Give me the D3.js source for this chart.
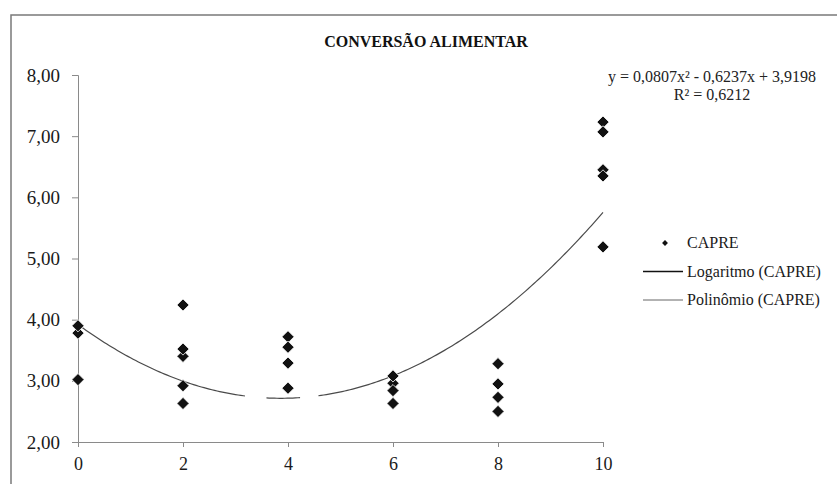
<!DOCTYPE html>
<html>
<head>
<meta charset="utf-8">
<script src="https://cdn.jsdelivr.net/npm/d3@7"></script>
<style>
  body { margin: 0; background: #fff; }
</style>
</head>
<body>
<div id="chart"></div>
<script>
// CAPRE level (x) and feed conversion (y), in the order Excel drew them
const xLevels = [0, 0, 0, 2, 2, 2, 2, 2, 4, 4, 4, 4, 6, 6, 6, 6, 8, 8, 8, 8, 10, 10, 10, 10, 10];
const capre   = [3.78, 3.90, 3.02, 4.24, 3.40, 3.52, 2.92, 2.63, 3.72, 3.55, 3.29, 2.88,
                 2.96, 3.08, 2.84, 2.63, 3.28, 2.95, 2.73, 2.50, 7.23, 7.07, 6.45, 6.35, 5.19];
const yTicks = [2, 3, 4, 5, 6, 7, 8];
const xTicks = [0, 2, 4, 6, 8, 10];
// polynomial trend line coefficients (from the chart label) and visible pieces
const polyCoef = [3.9198, -0.6237, 0.0807];
const polyPieces = [[0, 3.18], [3.59, 4.23], [4.58, 10]];
const legendItems = ["CAPRE", "Logaritmo (CAPRE)", "Polinômio (CAPRE)"];

const serif = "'Liberation Serif', 'DejaVu Serif', serif";
const width = 837, height = 484;
const svg = d3.select("#chart").append("svg")
    .attr("width", width)
    .attr("height", height)
    .style("font-family", serif);

// outer frame
svg.append("rect")
    .attr("x", 11).attr("y", 15)
    .attr("width", 840).attr("height", 480)
    .attr("fill", "none")
    .attr("stroke", "#7a7a7a")
    .attr("stroke-width", 1.5);

const x = d3.scaleLinear().domain([0, 10]).range([78, 603]);
const y = d3.scaleLinear().domain([2, 8]).range([442, 75]);

const fmt = d => d.toFixed(2).replace(".", ",");

// y axis
const yAxis = svg.append("g")
    .attr("transform", "translate(" + x(0) + ",0)")
    .call(d3.axisLeft(y).tickValues(yTicks).tickFormat(fmt).tickSize(6).tickPadding(12));

// x axis
const xAxis = svg.append("g")
    .attr("transform", "translate(0," + y(2) + ")")
    .call(d3.axisBottom(x).tickValues(xTicks).tickFormat(d3.format("d")).tickSize(5).tickPadding(10));

yAxis.attr("font-family", null).attr("font-size", 19);
xAxis.attr("font-family", null).attr("font-size", 18);
svg.selectAll(".tick text").attr("fill", "#1a1a1a");
svg.selectAll(".domain, .tick line").attr("stroke", "#8a8a8a");

// polynomial trend line
const poly = v => polyCoef[0] + polyCoef[1] * v + polyCoef[2] * v * v;
const line = d3.line().x(d => x(d)).y(d => y(poly(d)));
polyPieces.forEach(p => {
    const pts = d3.range(p[0], p[1], 0.05).concat([p[1]]);
    svg.append("path")
        .attr("d", line(pts))
        .attr("fill", "none")
        .attr("stroke", "#4a4a4a")
        .attr("stroke-width", 1.2);
});

// points
const diamond = d3.symbol().type(d3.symbolDiamond2).size(95);
svg.selectAll(".pt")
    .data(capre)
    .enter()
    .append("path")
    .attr("class", "pt")
    .attr("d", diamond)
    .attr("transform", (d, i) => "translate(" + x(xLevels[i]) + "," + y(d) + ")")
    .attr("fill", "#111")
    .attr("stroke", "#fff")
    .attr("stroke-width", 0.8);

// title
svg.append("text")
    .attr("x", 426).attr("y", 47)
    .attr("text-anchor", "middle")
    .attr("fill", "#111")
    .style("font-size", "16px")
    .style("font-weight", "bold")
    .text("CONVERSÃO ALIMENTAR");

// equation
const eq = svg.append("text")
    .attr("text-anchor", "middle")
    .attr("fill", "#222")
    .style("font-size", "16px");
eq.append("tspan").attr("x", 712).attr("y", 82)
    .text("y = 0,0807x² - 0,6237x + 3,9198");
eq.append("tspan").attr("x", 712).attr("y", 100)
    .text("R² = 0,6212");

// legend
const legend = svg.append("g");
legendItems.forEach((name, i) => {
    const ly = 243 + i * 28.5;
    if (i === 0) {
        legend.append("path")
            .attr("d", d3.symbol().type(d3.symbolDiamond2).size(22))
            .attr("transform", "translate(665," + ly + ")")
            .attr("fill", "#111");
    } else {
        legend.append("line")
            .attr("x1", 643).attr("x2", 683)
            .attr("y1", ly).attr("y2", ly)
            .attr("stroke", i === 1 ? "#111" : "#666")
            .attr("stroke-width", i === 1 ? 1.4 : 1);
    }
    legend.append("text")
        .attr("x", 687).attr("y", ly + 5)
        .attr("fill", "#1a1a1a")
        .style("font-size", "16px")
        .text(name);
});
</script>
</body>
</html>
